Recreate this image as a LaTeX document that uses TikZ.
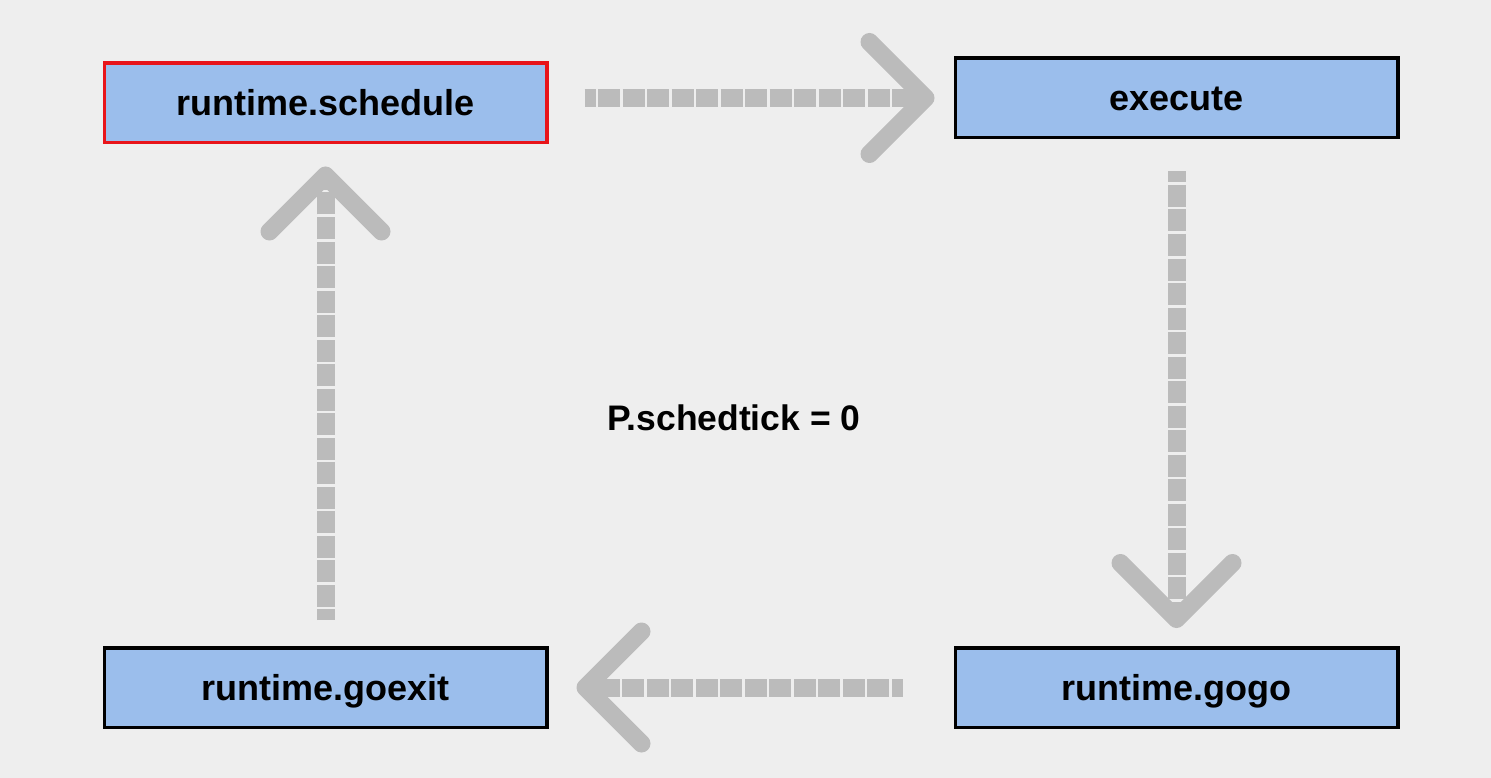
\documentclass[tikz,border=0pt]{standalone}
\usepackage{fontspec}
\setmainfont{Liberation Sans}
\definecolor{bg}{HTML}{EEEEEE}
\definecolor{boxfill}{HTML}{9BBEEC}
\definecolor{arrgray}{HTML}{BBBBBB}
\definecolor{redline}{HTML}{E8141A}
\tikzset{
  box/.style={draw=black, line width=3.5pt, fill=boxfill, minimum width=442.5pt, minimum height=79.5pt, inner sep=0pt, text height=26pt, text depth=0pt, font=\fontsize{36}{40}\selectfont\bfseries},
  shaft/.style={draw=arrgray, line width=18pt, dash pattern=on 22pt off 2.5pt, dash phase=11pt},
  chev/.style={draw=arrgray, line width=18pt, line cap=round, line join=round},
}
\begin{document}
\begin{tikzpicture}[x=1pt,y=-1pt]
\fill[bg] (0,0) rectangle (1491,778);
\useasboundingbox (0,0) rectangle (1491,778);
\node[box, draw=redline] (sched) at (325.5,103) {runtime.schedule};
\node[box] (exec) at (1176.5,98) {execute};
\node[box] (goexit) at (325.5,687.5) {runtime.goexit};
\node[box] (gogo) at (1176.5,687.5) {runtime.gogo};
\node[font=\fontsize{35.5}{40}\selectfont\bfseries] (tick) at (734,418) {P.schedtick = 0};
% top: schedule -> execute
\coordinate (t1) at ([xshift=-28pt]exec.west);
\draw[shaft] ([xshift=36pt]sched.east |- t1) -- (t1);
\draw[chev] ([shift={(-56,-56)}]t1) -- (t1) -- ([shift={(-56,56)}]t1);
% right: execute -> gogo
\coordinate (t2) at ([yshift=27pt]gogo.north);
\draw[shaft] ([yshift=-32pt]exec.south) -- (t2);
\draw[chev] ([shift={(-56,-56)}]t2) -- (t2) -- ([shift={(56,-56)}]t2);
% bottom: gogo -> goexit
\coordinate (t3) at ([xshift=37pt]goexit.east);
\draw[shaft] ([xshift=-51pt]gogo.west) -- (t3);
\draw[chev] ([shift={(56,-56)}]t3) -- (t3) -- ([shift={(56,56)}]t3);
% left: goexit -> schedule
\coordinate (t4) at ([yshift=-31pt]sched.south);
\draw[shaft] ([yshift=26pt]goexit.north) -- (t4);
\draw[chev] ([shift={(-56,56)}]t4) -- (t4) -- ([shift={(56,56)}]t4);
\end{tikzpicture}
\end{document}
